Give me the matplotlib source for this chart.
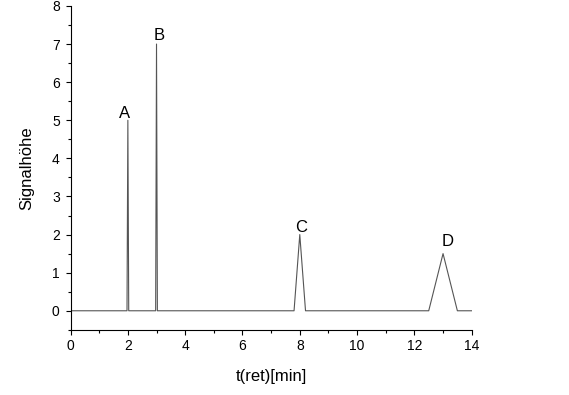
import matplotlib.pyplot as plt
from matplotlib.ticker import MultipleLocator

plt.rcParams['font.family'] = ['Liberation Sans', 'DejaVu Sans']

# Chromatogramm-Daten
t_ret = [0, 1.97, 2.0, 2.03, 2.97, 3.0, 3.03, 7.8, 8.0, 8.2, 12.5, 13.0, 13.5, 14.0]
signal = [0, 0, 5, 0, 0, 7, 0, 0, 2, 0, 0, 1.5, 0, 0]

# Peak-Beschriftungen
peak_names = ["A", "B", "C", "D"]
label_t = [1.87, 3.1, 8.05, 13.15]
label_h = [5.05, 7.1, 2.08, 1.7]

fig = plt.figure(figsize=(5.69, 3.95), dpi=100)
ax = fig.add_axes([0.124, 0.165, 0.705, 0.82])

ax.plot(t_ret, signal, color='#555555', linewidth=0.8)

for name, x, h in zip(peak_names, label_t, label_h):
    ax.text(x, h, name, ha='center', va='baseline', fontsize=12)

ax.set_xlim(0, 14)
ax.set_ylim(-0.5, 8)
ax.xaxis.set_major_locator(MultipleLocator(2))
ax.xaxis.set_minor_locator(MultipleLocator(1))
ax.yaxis.set_major_locator(MultipleLocator(1))
ax.yaxis.set_minor_locator(MultipleLocator(0.5))

for side in ['top', 'right']:
    ax.spines[side].set_visible(False)
ax.tick_params(which='major', direction='out', length=3.8, width=0.8, labelsize=10)
ax.tick_params(axis='x', pad=3)
ax.tick_params(axis='y', pad=4)
ax.tick_params(which='minor', direction='out', length=2.2, width=0.8)

ax.set_xlabel("t(ret)[min]", fontsize=12, labelpad=11)
ax.set_ylabel("Signalhöhe", fontsize=12, labelpad=13)

plt.savefig("out.png", dpi=100)
plt.close()
